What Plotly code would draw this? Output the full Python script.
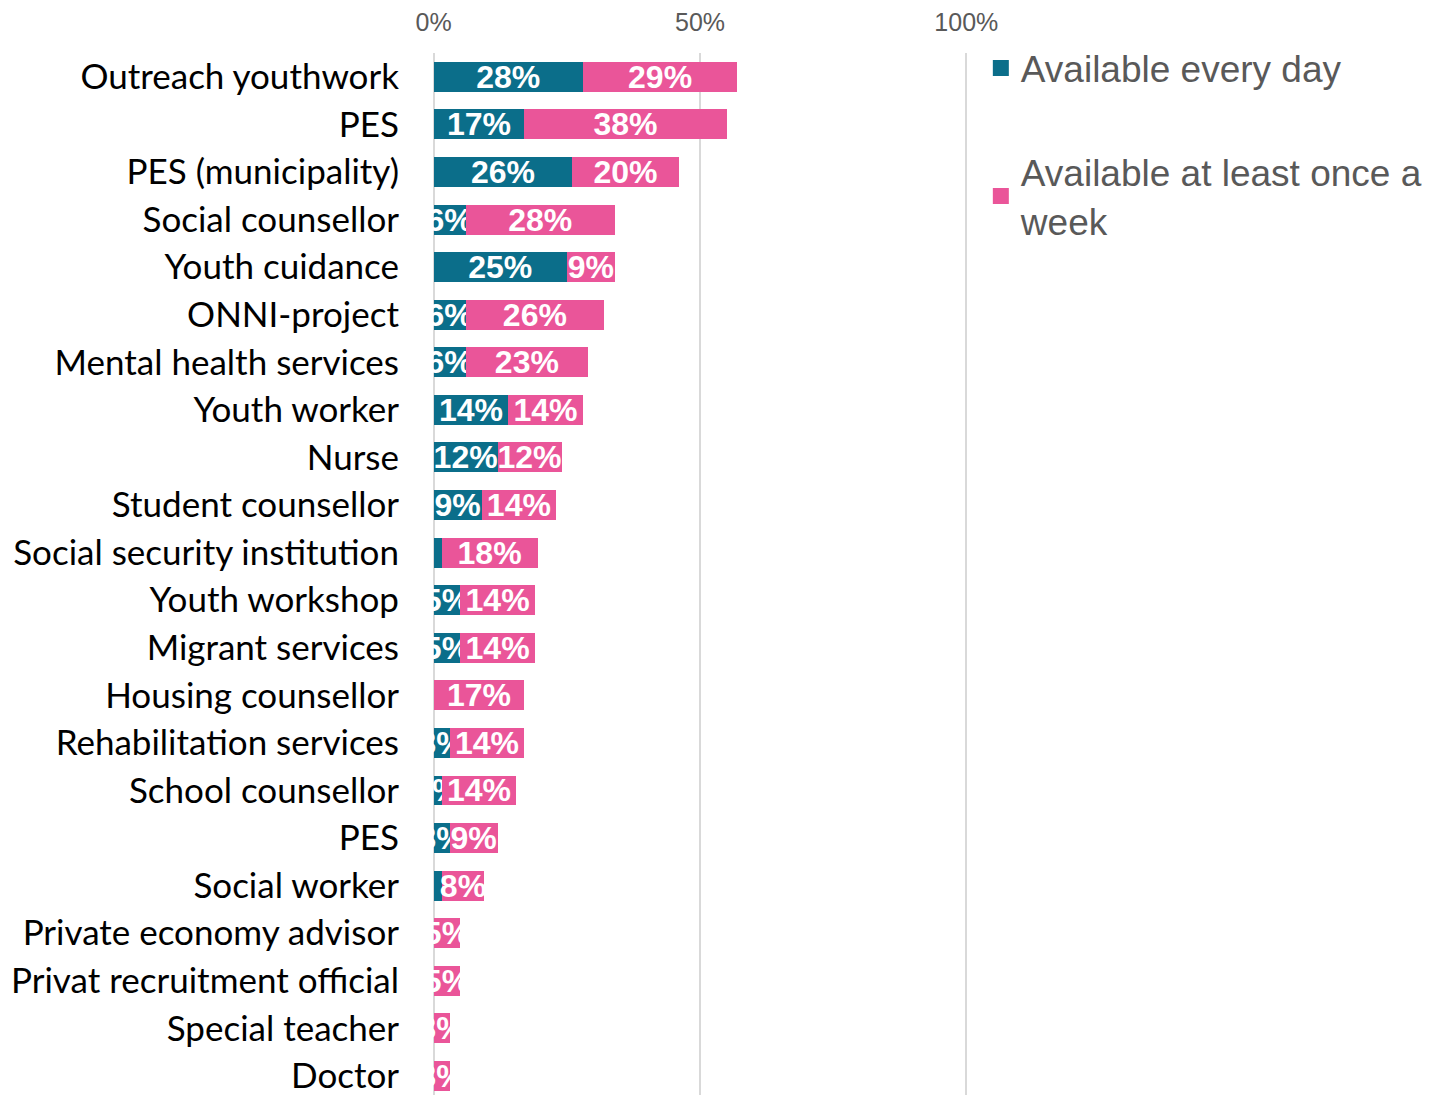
import plotly.graph_objects as go

categories = ["Outreach youthwork", "PES", "PES (municipality)", "Social counsellor",
              "Youth cuidance", "ONNI-project", "Mental health services", "Youth worker",
              "Nurse", "Student counsellor", "Social security institution", "Youth workshop",
              "Migrant services", "Housing counsellor", "Rehabilitation services",
              "School counsellor", "PES", "Social worker", "Private economy advisor",
              "Privat recruitment official", "Special teacher", "Doctor"]
every_day = [28, 17, 26, 6, 25, 6, 6, 14, 12, 9, 1.5, 5, 5, 0, 3, 1.5, 3, 1.5, 0, 0, 0, 0]
every_day_labels = ["28%", "17%", "26%", "6%", "25%", "6%", "6%", "14%", "12%", "9%", "",
                    "5%", "5%", "", "3%", "2%", "3%", "", "", "", "", ""]
once_week = [29, 38, 20, 28, 9, 26, 23, 14, 12, 14, 18, 14, 14, 17, 14, 14, 9, 8, 5, 5, 3, 3]
once_week_labels = ["29%", "38%", "20%", "28%", "9%", "26%", "23%", "14%", "12%", "14%", "18%",
                    "14%", "14%", "17%", "14%", "14%", "9%", "8%", "5%", "5%", "3%", "3%"]
series_names = ["Available every day", "Available at least once a<br>week"]
x_ticks = [0, 50, 100]
x_tick_labels = ["0%", "50%", "100%"]

TEAL = "#0B6E8A"
PINK = "#EA5599"
idx = list(range(len(categories)))
label_font = dict(family="Arial, Liberation Sans", size=32, color="white", weight="bold")

fig = go.Figure()
for vals, labels, color in [(every_day, every_day_labels, TEAL), (once_week, once_week_labels, PINK)]:
    fig.add_trace(go.Bar(
        y=idx, x=vals, orientation="h", showlegend=False,
        marker=dict(color=color, line=dict(width=0)), width=0.63,
        text=labels, textposition="inside", insidetextanchor="middle", textangle=0,
        textfont=label_font, hoverinfo="skip"))

# legend entries
for name, color, grp in [(series_names[0], TEAL, "a"), (series_names[1], PINK, "b")]:
    fig.add_trace(go.Scatter(
        x=[None], y=[None], mode="markers", name=name, legendgroup=grp,
        marker=dict(symbol="square", size=20, color=color), hoverinfo="skip"))

fig.update_layout(
    width=1433, height=1095,
    margin=dict(l=431, r=464, t=53, b=0),
    barmode="stack",
    plot_bgcolor="white", paper_bgcolor="white",
    uniformtext=dict(minsize=32, mode="show"),
    showlegend=True,
    legend=dict(x=1.022, y=1.015, xanchor="left", yanchor="top",
                font=dict(family="Arial, Liberation Sans", size=37, color="#595959"),
                tracegroupgap=53, traceorder="grouped", itemsizing="trace",
                bgcolor="rgba(0,0,0,0)"),
    xaxis=dict(side="top", range=[-0.5, 100.5], tickvals=x_ticks, ticktext=x_tick_labels,
               showgrid=True, gridcolor="#D9D9D9", gridwidth=2, zeroline=False,
               showline=False, ticks="", ticklabelstandoff=16,
               tickfont=dict(family="Arial, Liberation Sans", size=25, color="#595959")),
    yaxis=dict(range=[21.4, -0.5], tickvals=idx, ticktext=categories,
               showgrid=False, zeroline=False, showline=False, ticks="",
               ticklabelstandoff=31, ticklabeloverflow="allow",
               tickfont=dict(family="Lato, Carlito, Calibri", size=35, color="black")),
)

fig.write_html("out.html")
